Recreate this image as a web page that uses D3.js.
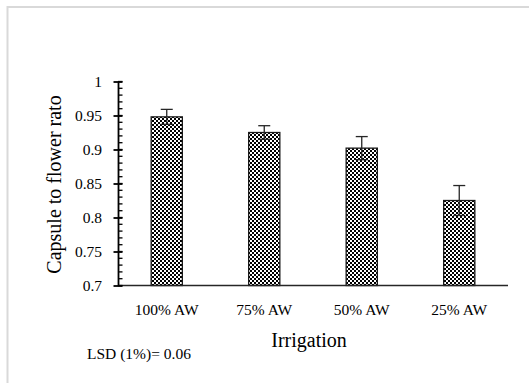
<!DOCTYPE html>
<html>
<head>
<meta charset="utf-8">
<script src="https://cdn.jsdelivr.net/npm/d3@7"></script>
<style>
  body { margin: 0; background: #fff; }
  svg text { font-family: "Liberation Serif", "Times New Roman", serif !important; fill: #000; }
</style>
</head>
<body>
<div class="chart"></div>
<script>
// values
const categories = ["100% AW", "75% AW", "50% AW", "25% AW"];
const ratio = [0.948, 0.925, 0.902, 0.825];
const stdErr = [0.011, 0.010, 0.017, 0.022];
const yTicks = [0.7, 0.75, 0.8, 0.85, 0.9, 0.95, 1];
const yTickLabels = ["0.7", "0.75", "0.8", "0.85", "0.9", "0.95", "1"];

const width = 529;
const height = 383;
const serif = "'Liberation Serif', serif";

const svg = d3.select("div.chart")
    .append("svg")
    .attr("width", width)
    .attr("height", height)
    .attr("font-family", serif);

// checkered fill like the original
const pat = svg.append("defs").append("pattern")
    .attr("id", "checks")
    .attr("patternUnits", "userSpaceOnUse")
    .attr("width", 4)
    .attr("height", 4);
pat.append("rect").attr("width", 4).attr("height", 4).attr("fill", "#fff");
pat.append("rect").attr("width", 2).attr("height", 2).attr("fill", "#000");
pat.append("rect").attr("x", 2).attr("y", 2).attr("width", 2).attr("height", 2).attr("fill", "#000");

// chart frame (runs off the page on right/bottom)
svg.append("rect")
    .attr("x", 7.5)
    .attr("y", 7)
    .attr("width", width + 20)
    .attr("height", height + 20)
    .attr("fill", "none")
    .attr("stroke", "#d9d9d9")
    .attr("stroke-width", 2);

const x = d3.scaleBand()
    .domain(categories)
    .range([118, 508])
    .paddingInner(0.68)
    .paddingOuter(0.34);

const y = d3.scaleLinear()
    .domain([0.7, 1])
    .range([285.5, 81.5]);

// bars
svg.append("g")
    .selectAll("rect")
    .data(categories)
    .enter()
    .append("rect")
    .attr("x", d => x(d))
    .attr("y", (d, i) => y(ratio[i]))
    .attr("width", x.bandwidth())
    .attr("height", (d, i) => y(0.7) - y(ratio[i]))
    .attr("fill", "url(#checks)")
    .attr("stroke", "#1a1a1a")
    .attr("stroke-width", 1.3);

// error bars
const eb = svg.append("g")
    .attr("stroke", "#262626")
    .attr("stroke-width", 1.3)
    .selectAll("g")
    .data(categories)
    .enter()
    .append("g");

eb.append("line")
    .attr("x1", d => x(d) + x.bandwidth() / 2)
    .attr("x2", d => x(d) + x.bandwidth() / 2)
    .attr("y1", (d, i) => y(ratio[i] + stdErr[i]))
    .attr("y2", (d, i) => y(ratio[i] - stdErr[i]));

[1, -1].forEach(function (s) {
    eb.append("line")
        .attr("x1", d => x(d) + x.bandwidth() / 2 - 6)
        .attr("x2", d => x(d) + x.bandwidth() / 2 + 6)
        .attr("y1", (d, i) => y(ratio[i] + s * stdErr[i]))
        .attr("y2", (d, i) => y(ratio[i] + s * stdErr[i]));
});

// x axis line
svg.append("line")
    .attr("x1", 118)
    .attr("x2", 508)
    .attr("y1", y(0.7))
    .attr("y2", y(0.7))
    .attr("stroke", "#262626")
    .attr("stroke-width", 1.5);

// x category labels
svg.append("g")
    .selectAll("text")
    .data(categories)
    .enter()
    .append("text")
    .attr("x", d => x(d) + x.bandwidth() / 2)
    .attr("y", 315)
    .attr("text-anchor", "middle")
    .attr("font-family", serif)
    .attr("font-size", 15.5)
    .text(d => d);

// y axis: minor ticks every 0.01 on the right side
const minor = d3.range(70, 101).map(v => v / 100);
svg.append("g")
    .selectAll("line")
    .data(minor)
    .enter()
    .append("line")
    .attr("x1", 118)
    .attr("x2", 122.5)
    .attr("y1", d => y(d))
    .attr("y2", d => y(d))
    .attr("stroke", "#000")
    .attr("stroke-width", 1.3);

const yAxis = svg.append("g")
    .attr("transform", "translate(118,0)")
    .call(d3.axisLeft(y).tickValues(yTicks).tickFormat((d, i) => yTickLabels[i]).tickSize(4).tickSizeOuter(0))
    .attr("font-family", serif)
    .attr("font-size", 15.5);
yAxis.select(".domain").attr("stroke", "#000").attr("stroke-width", 1.8);
yAxis.selectAll(".tick line").attr("x2", 4.5).attr("x1", -4.5).attr("stroke-width", 1.8);
yAxis.selectAll(".tick text")
    .attr("x", -16)
    .attr("font-family", serif);

// titles
svg.append("text")
    .attr("transform", "translate(61,184.5) rotate(-90)")
    .attr("text-anchor", "middle")
    .attr("font-family", serif)
    .attr("font-size", 20)
    .text("Capsule to flower rato");

svg.append("text")
    .attr("x", 309)
    .attr("y", 347)
    .attr("text-anchor", "middle")
    .attr("font-family", serif)
    .attr("font-size", 20)
    .text("Irrigation");

svg.append("text")
    .attr("x", 87)
    .attr("y", 359)
    .attr("font-family", serif)
    .attr("font-size", 15.5)
    .text("LSD (1%)= 0.06");
</script>
</body>
</html>
